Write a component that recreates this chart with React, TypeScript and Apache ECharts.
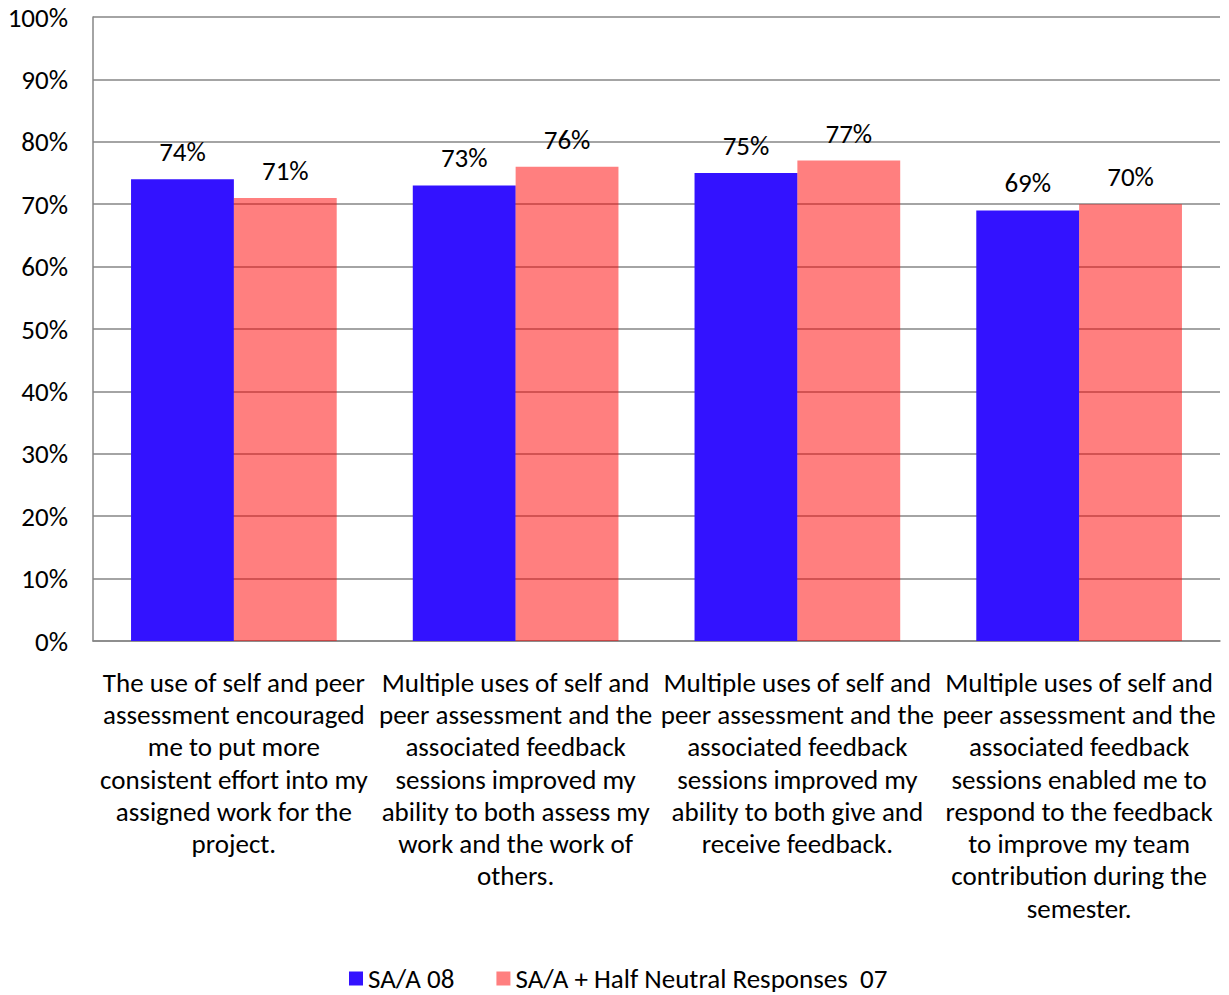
import React, { useEffect, useRef } from "react";
import * as echarts from "echarts";

// Survey statements (x-axis categories), wrapped into display lines
const categories = [
  "The use of self and peer\nassessment encouraged\nme to put more\nconsistent effort into my\nassigned work for the\nproject.",
  "Multiple uses of self and\npeer assessment and the\nassociated feedback\nsessions improved my\nability to both assess my\nwork and the work of\nothers.",
  "Multiple uses of self and\npeer assessment and the\nassociated feedback\nsessions improved my\nability to both give and\nreceive feedback.",
  "Multiple uses of self and\npeer assessment and the\nassociated feedback\nsessions enabled me to\nrespond to the feedback\nto improve my team\ncontribution during the\nsemester.",
];

// Percent of strongly agree / agree responses
const seriesNames = ["SA/A 08", "SA/A + Half Neutral Responses  07"];
const saa08 = [74, 73, 75, 69];
const saaHalfNeutral07 = [71, 76, 77, 70];

const FONT = "Carlito, Calibri, Lato, sans-serif";
const FS = 27;

export default function App() {
  const ref = useRef<HTMLDivElement>(null);

  useEffect(() => {
    if (!ref.current) return;
    const chart = echarts.init(ref.current, undefined, { renderer: "svg" });

    const barLabel = {
      show: true,
      position: "top",
      distance: 14,
      fontSize: FS,
      fontFamily: FONT,
      color: "#000",
      formatter: (p: any) => `${p.value}%`,
    };

    chart.setOption({
      animation: false,
      backgroundColor: "#fff",
      textStyle: { fontFamily: FONT },
      grid: { left: 93, right: 9, top: 17, bottom: 354 },
      legend: {
        data: seriesNames,
        left: 349,
        top: 965,
        padding: 0,
        icon: "rect",
        itemWidth: 14,
        itemHeight: 14,
        itemGap: 42,
        textStyle: { fontSize: FS, fontFamily: FONT, color: "#000" },
      },
      xAxis: {
        type: "category",
        data: categories,
        axisLine: { show: true, lineStyle: { color: "#868686", width: 1.5 } },
        axisTick: { show: false },
        axisLabel: {
          interval: 0,
          fontSize: FS,
          lineHeight: 32.3,
          margin: 25,
          color: "#000",
          fontFamily: FONT,
          align: "center",
        },
      },
      yAxis: {
        type: "value",
        min: 0,
        max: 100,
        interval: 10,
        axisLine: { show: true, lineStyle: { color: "#868686", width: 1.5 } },
        axisTick: { show: false },
        splitLine: { show: true, lineStyle: { color: "#868686", width: 1.5 } },
        axisLabel: {
          formatter: "{value}%",
          fontSize: FS,
          margin: 25,
          color: "#000",
          fontFamily: FONT,
        },
      },
      series: [
        {
          name: seriesNames[0],
          type: "bar",
          data: saa08,
          barGap: "0%",
          barCategoryGap: "27%",
          itemStyle: { color: "#3312FF" },
          label: barLabel,
        },
        {
          name: seriesNames[1],
          type: "bar",
          data: saaHalfNeutral07,
          itemStyle: { color: "rgba(255,0,0,0.5)" },
          label: barLabel,
        },
      ],
    });

    return () => chart.dispose();
  }, []);

  return (
    <div
      ref={ref}
      style={{ position: "fixed", left: 0, top: 0, width: 1229, height: 995, background: "#fff" }}
    />
  );
}
